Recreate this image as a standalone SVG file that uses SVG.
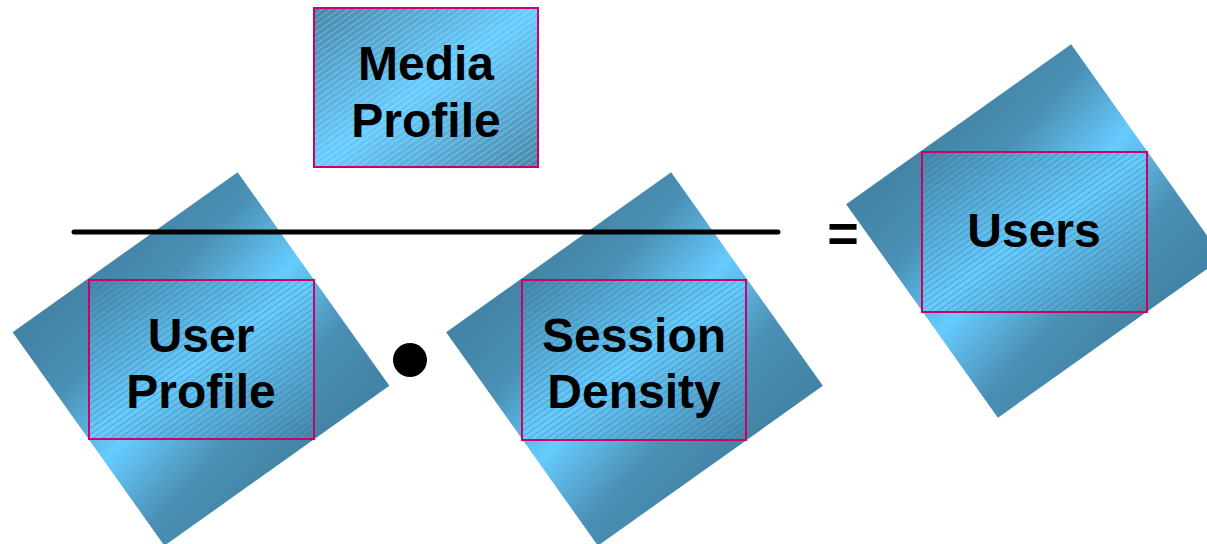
<svg xmlns="http://www.w3.org/2000/svg" width="1207" height="544" viewBox="0 0 1207 544">
  <defs>
    <!-- tilted square backdrop: dark edges, light band through the middle -->
    <linearGradient id="tileGrad" gradientUnits="userSpaceOnUse" x1="-27" y1="-137" x2="27" y2="137">
      <stop offset="0" stop-color="#4384a6"/>
      <stop offset="0.22" stop-color="#4a90b4"/>
      <stop offset="0.5" stop-color="#66ccff"/>
      <stop offset="0.78" stop-color="#4a90b4"/>
      <stop offset="1" stop-color="#4384a6"/>
    </linearGradient>
    <!-- label box: dark corners top-left / bottom-right, light diagonal band -->
    <linearGradient id="boxGrad" x1="0" y1="0" x2="1" y2="1">
      <stop offset="0" stop-color="#4587aa"/>
      <stop offset="0.5" stop-color="#66ccff"/>
      <stop offset="1" stop-color="#4587aa"/>
    </linearGradient>
    <pattern id="hatchLight" patternUnits="userSpaceOnUse" width="10" height="5" patternTransform="rotate(-35)">
      <line x1="0" y1="2.5" x2="10" y2="2.5" stroke="#ffffff" stroke-width="0.8" stroke-opacity="0.35"/>
    </pattern>
    <pattern id="hatchDark" patternUnits="userSpaceOnUse" width="10" height="5" patternTransform="rotate(-35)">
      <line x1="0" y1="2.5" x2="10" y2="2.5" stroke="#2f5f7f" stroke-width="0.8" stroke-opacity="0.45"/>
    </pattern>
  </defs>
  <style>
    .tile { fill: url(#tileGrad); }
    .box { fill: url(#boxGrad); }
    .frame { fill: none; stroke: #cc0066; stroke-width: 2; }
    .label { font-family: "Liberation Sans", Arial, sans-serif; font-weight: bold; font-size: 48px; fill: #000; text-anchor: middle; }
    .op { font-family: "Liberation Sans", Arial, sans-serif; font-weight: bold; fill: #000; text-anchor: middle; }
  </style>

  <rect width="1207" height="544" fill="#ffffff"/>

  <!-- Media Profile (numerator) -->
  <g id="media-profile">
    <rect class="box" x="314" y="8" width="224" height="159"/>
    <rect x="314" y="8" width="224" height="159" fill="url(#hatchLight)"/>
    <rect class="frame" x="314" y="8" width="224" height="159"/>
    <text class="label" x="426" y="80">Media</text>
    <text class="label" x="426" y="137">Profile</text>
  </g>

  <!-- User Profile -->
  <g id="user-profile">
    <rect class="tile" x="-138" y="-131" width="276" height="262" transform="translate(201 359) rotate(-35.4)"/>
    <rect class="box" x="89" y="280" width="225" height="159"/>
    <rect x="89" y="280" width="225" height="159" fill="url(#hatchDark)"/>
    <rect class="frame" x="89" y="280" width="225" height="159"/>
    <text class="label" x="201" y="352">User</text>
    <text class="label" x="201" y="408">Profile</text>
  </g>

  <!-- Session Density -->
  <g id="session-density">
    <rect class="tile" x="-138" y="-131" width="276" height="262" transform="translate(634.5 359) rotate(-35.4)"/>
    <rect class="box" x="522" y="280" width="224" height="160"/>
    <rect x="522" y="280" width="224" height="160" fill="url(#hatchDark)"/>
    <rect class="frame" x="522" y="280" width="224" height="160"/>
    <text class="label" x="634" y="352">Session</text>
    <text class="label" x="634" y="408">Density</text>
  </g>

  <!-- Users (result) -->
  <g id="users">
    <rect class="tile" x="-138" y="-131" width="276" height="262" transform="translate(1034.5 231) rotate(-35.4)"/>
    <rect class="box" x="922" y="152" width="225" height="160"/>
    <rect x="922" y="152" width="225" height="160" fill="url(#hatchDark)"/>
    <rect class="frame" x="922" y="152" width="225" height="160"/>
    <text class="label" x="1034" y="247">Users</text>
  </g>

  <!-- fraction bar and operators -->
  <g id="connectors">
    <line x1="74" y1="232" x2="778" y2="232" stroke="#000" stroke-width="5" stroke-linecap="round"/>
    <circle cx="410" cy="360" r="17" fill="#000"/>
    <text class="op" x="843" y="252" font-size="54">=</text>
  </g>
</svg>
